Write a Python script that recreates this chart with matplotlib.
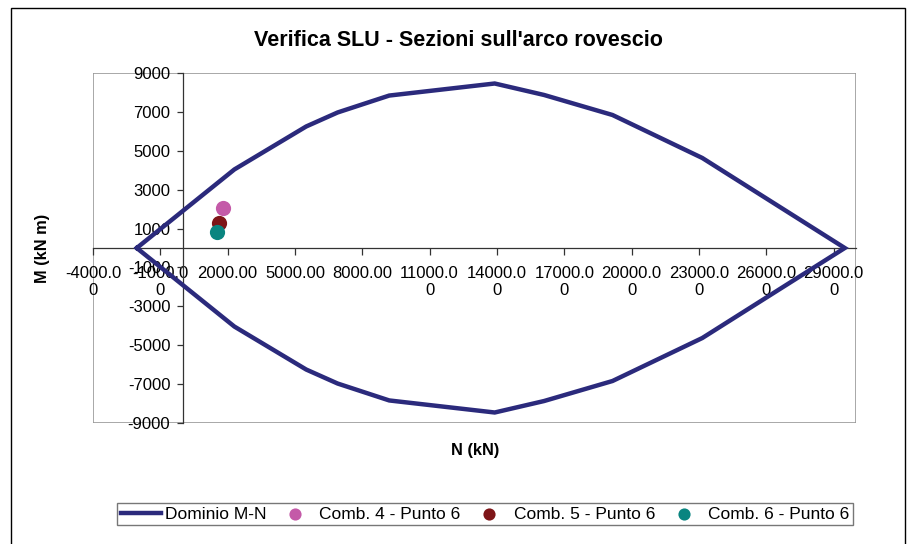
import matplotlib.pyplot as plt
from matplotlib.patches import Rectangle
from matplotlib.ticker import FixedLocator, FuncFormatter

plt.rcParams["font.family"] = ["Liberation Sans", "DejaVu Sans"]

# M-N interaction domain (closed polygon)
dom_n = [-2050, 2300, 5500, 6900, 9200, 13900, 16100, 19150, 23150, 29500,
         23150, 19150, 16100, 13900, 9200, 6900, 5500, 2300, -2050]
dom_m = [0, 4040, 6250, 6970, 7840, 8460, 7870, 6840, 4630, 0,
         -4630, -6840, -7870, -8460, -7840, -6970, -6250, -4040, 0]

# verification points
comb_labels = ["Comb. 4 - Punto 6", "Comb. 5 - Punto 6", "Comb. 6 - Punto 6"]
comb_n = [1810, 1630, 1545]
comb_m = [2060, 1290, 820]
comb_colors = ["#c45aa8", "#7e1518", "#0a8580"]

x_ticks = list(range(-4000, 29001, 3000))
y_ticks = list(range(-9000, 9001, 2000))

W, H = 909, 544
fig = plt.figure(figsize=(W / 100, H / 100), dpi=100)

# outer chart frame
fig.patches.append(Rectangle((11 / W, -0.1), (905 - 11) / W, 1.1 - 8 / H,
                             transform=fig.transFigure, fill=False,
                             ec="black", lw=1.0))

left, right, top, bottom = 93, 856, 73, 423
ax = fig.add_axes([left / W, (H - bottom) / H, (right - left) / W,
                   (bottom - top) / H])

ax.plot(dom_n, dom_m, color="#2b2a7c", lw=3.2, label="Dominio M-N",
        solid_joinstyle="miter", zorder=3)
for n, m, c, lab in zip(comb_n, comb_m, comb_colors, comb_labels):
    ax.scatter([n], [m], s=120, color=c, label=lab, zorder=4, lw=0)

ax.set_xlim(-4000, 30000)
ax.set_ylim(-9000, 9000)

for s in ["top", "right"]:
    ax.spines[s].set_visible(False)
for s in ["left", "bottom"]:
    ax.spines[s].set_position(("data", 0))
    ax.spines[s].set_color("#333333")
    ax.spines[s].set_linewidth(0.9)
ax.add_patch(Rectangle((0, 0), 1, 1, transform=ax.transAxes, fill=False,
                       ec="#999999", lw=1.2, zorder=0))


def wrap_label(v, pos):
    s = "%.2f" % v
    return s if len(s) <= 7 else s[:7] + "\n" + s[7:]


ax.xaxis.set_major_locator(FixedLocator(x_ticks))
ax.xaxis.set_major_formatter(FuncFormatter(wrap_label))
ax.yaxis.set_major_locator(FixedLocator(y_ticks))
ax.yaxis.set_major_formatter(FuncFormatter(lambda v, p: "%d" % v))
ax.tick_params(axis="x", direction="out", length=5, width=0.9,
               color="#333333", labelsize=12, pad=8)
ax.tick_params(axis="y", direction="out", length=4, width=0.9,
               color="#333333", labelsize=12, pad=5)
for t in ax.get_xticklabels():
    t.set_multialignment("center")
    t.set_linespacing(1.15)

fig.text(458 / W, 1 - 40 / H, "Verifica SLU - Sezioni sull'arco rovescio",
         ha="center", va="center", fontsize=15.5, fontweight="bold")
fig.text(475 / W, 1 - 451 / H, "N (kN)", ha="center", va="center",
         fontsize=11.8, fontweight="bold")
fig.text(42 / W, 1 - 248 / H, "M (kN m)", ha="center", va="center",
         rotation=90, fontsize=11.8, fontweight="bold")

leg = fig.legend(loc="center", bbox_to_anchor=(485 / W, 1 - 514 / H),
                 ncol=4, fontsize=12.5, frameon=True, fancybox=False,
                 handlelength=2.3, handletextpad=0.25, columnspacing=0.5,
                 borderpad=0.2, borderaxespad=0, markerscale=0.8)
leg.get_frame().set_edgecolor("#555555")
leg.get_frame().set_linewidth(1.0)

fig.savefig("out.png", dpi=100)
